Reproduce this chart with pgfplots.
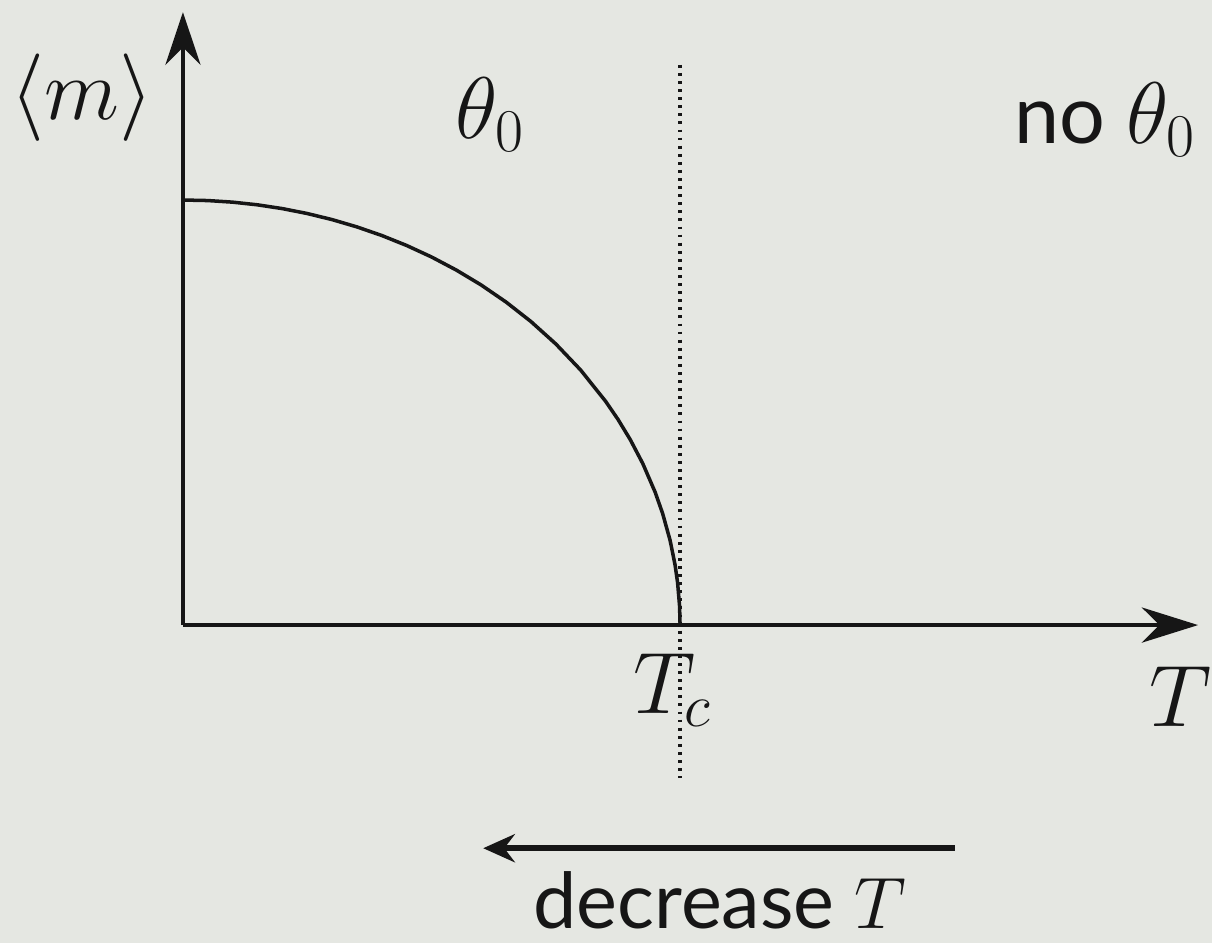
\documentclass[border=0pt]{standalone}
\usepackage{pgfplots}
\pgfplotsset{compat=1.18}
\usepackage{fontspec}
\setmainfont{Lato}
\usetikzlibrary{arrows.meta}

\definecolor{bg}{RGB}{229,231,226}
\definecolor{ink}{RGB}{22,22,22}

% order parameter below the critical temperature (T in units of T_c, m in units of m(0))
\pgfplotstableread{
T      m
0.000  1.00000
0.050  0.99875
0.100  0.99499
0.150  0.98869
0.200  0.97980
0.250  0.96825
0.300  0.95394
0.350  0.93675
0.400  0.91652
0.450  0.89303
0.500  0.86603
0.550  0.83516
0.600  0.80000
0.650  0.75993
0.700  0.71414
0.750  0.66144
0.800  0.60000
0.850  0.52678
0.875  0.48412
0.900  0.43589
0.925  0.37997
0.950  0.31225
0.965  0.26220
0.980  0.19900
0.990  0.14107
0.995  0.09987
0.999  0.04471
1.000  0.00000
}\magdata

\tikzset{lbl/.style={text=ink, inner sep=0pt, font=\fontsize{#1}{#1}\selectfont}}

\begin{document}
\begin{tikzpicture}
\begin{axis}[
  width=12.12cm, height=9.43cm, scale only axis,
  xmin=-0.368, xmax=2.070, ymin=-0.748, ymax=1.4706,
  hide axis, clip=false,
]
% background
\fill[bg] (rel axis cs:0,0) rectangle (rel axis cs:1,1);

% axes
\addplot[ink, line width=1.2pt, -{Stealth[length=16pt,width=10pt,inset=5pt]}]
  coordinates {(0,0) (2.042,0)};
\addplot[ink, line width=1.2pt, -{Stealth[length=15pt,width=10pt,inset=5pt]}]
  coordinates {(0,0) (0,1.442)};

% critical temperature marker
\addplot[ink, line width=1.0pt, dash pattern=on 0.8pt off 1.5pt]
  coordinates {(1,1.318) (1,-0.36)};

% magnetisation curve
\addplot[ink, line width=1.0pt, line join=round] table[x=T, y=m] {\magdata};

% cooling direction
\addplot[ink, line width=1.8pt, -{Stealth[length=9pt,width=8pt,inset=3pt]}]
  coordinates {(1.553,-0.525) (0.604,-0.525)};

% labels
\node[lbl=25] at (axis cs:-0.203,1.242) {$\langle m\rangle$};
\node[lbl=25] at (axis cs:0.618,1.20) {$\theta_0$};
\node[lbl=23] at (axis cs:1.855,1.19) {no $\theta_0$};
\node[lbl=26] at (axis cs:0.985,-0.153) {$T_c$};
\node[lbl=27] at (axis cs:2.006,-0.169) {$T$};
\node[lbl=22] at (axis cs:1.08,-0.648) {decrease $T$};
\end{axis}
\pgfresetboundingbox
\path (current axis.south west) rectangle (current axis.north east);
\end{tikzpicture}
\end{document}
